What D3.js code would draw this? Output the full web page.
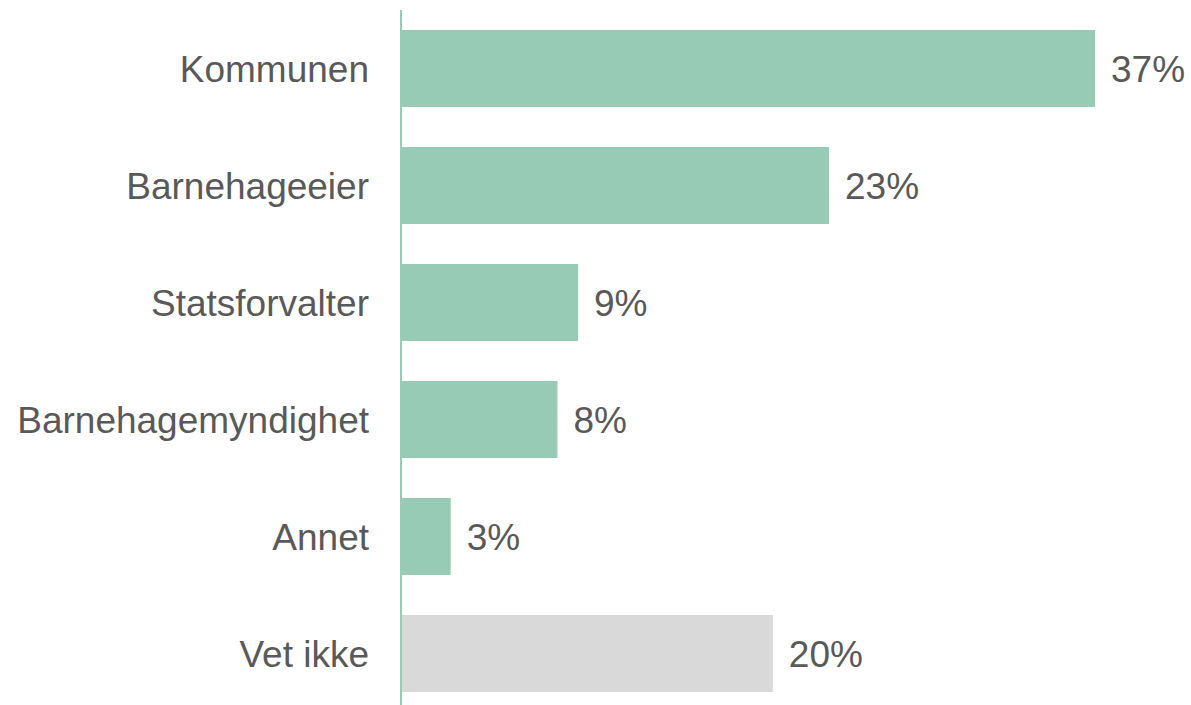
<!DOCTYPE html>
<html>
<head>
<meta charset="utf-8">
<script src="https://cdn.jsdelivr.net/npm/d3@7"></script>
<style>
  body { margin: 0; background: #fff; }
  text { font-family: "Liberation Sans", Arial, sans-serif; fill: #595959; }
</style>
</head>
<body>
<div id="chart"></div>
<script>
// data
const categories = ['Kommunen', 'Barnehageeier', 'Statsforvalter', 'Barnehagemyndighet', 'Annet', 'Vet ikke'];
const values = [37, 22.8, 9.4, 8.3, 2.6, 19.8];
const valueLabels = ['37%', '23%', '9%', '8%', '3%', '20%'];
const barColors = ['#97cbb6', '#97cbb6', '#97cbb6', '#97cbb6', '#97cbb6', '#d9d9d9'];

const width = 1191, height = 705;
const margin = { top: 10, right: 0, bottom: 0, left: 402 };

const svg = d3.select('#chart').append('svg')
  .attr('width', width)
  .attr('height', height);

const x = d3.scaleLinear().domain([0, 37]).range([margin.left, 1095]);
const y = d3.scaleBand()
  .domain(categories)
  .range([10, 712])
  .paddingInner(0.342)
  .paddingOuter(0.171);

// bars
svg.selectAll('.bar')
  .data(categories)
  .enter()
  .append('rect')
  .attr('class', 'bar')
  .attr('x', x(0))
  .attr('y', d => y(d))
  .attr('width', (d, i) => x(values[i]) - x(0))
  .attr('height', y.bandwidth())
  .attr('fill', (d, i) => barColors[i]);

// axis line
svg.append('line')
  .attr('x1', 401).attr('x2', 401)
  .attr('y1', margin.top).attr('y2', height)
  .attr('stroke', '#97cbb6')
  .attr('stroke-width', 2);

// category labels
svg.selectAll('.cat')
  .data(categories)
  .enter()
  .append('text')
  .attr('class', 'cat')
  .attr('x', 369)
  .attr('y', d => y(d) + y.bandwidth() / 2)
  .attr('dy', '0.36em')
  .attr('text-anchor', 'end')
  .style('font-size', '37px')
  .text(d => d);

// value labels
svg.selectAll('.val')
  .data(categories)
  .enter()
  .append('text')
  .attr('class', 'val')
  .attr('x', (d, i) => x(values[i]) + 16)
  .attr('y', d => y(d) + y.bandwidth() / 2)
  .attr('dy', '0.36em')
  .style('font-size', '37px')
  .text((d, i) => valueLabels[i]);
</script>
</body>
</html>
